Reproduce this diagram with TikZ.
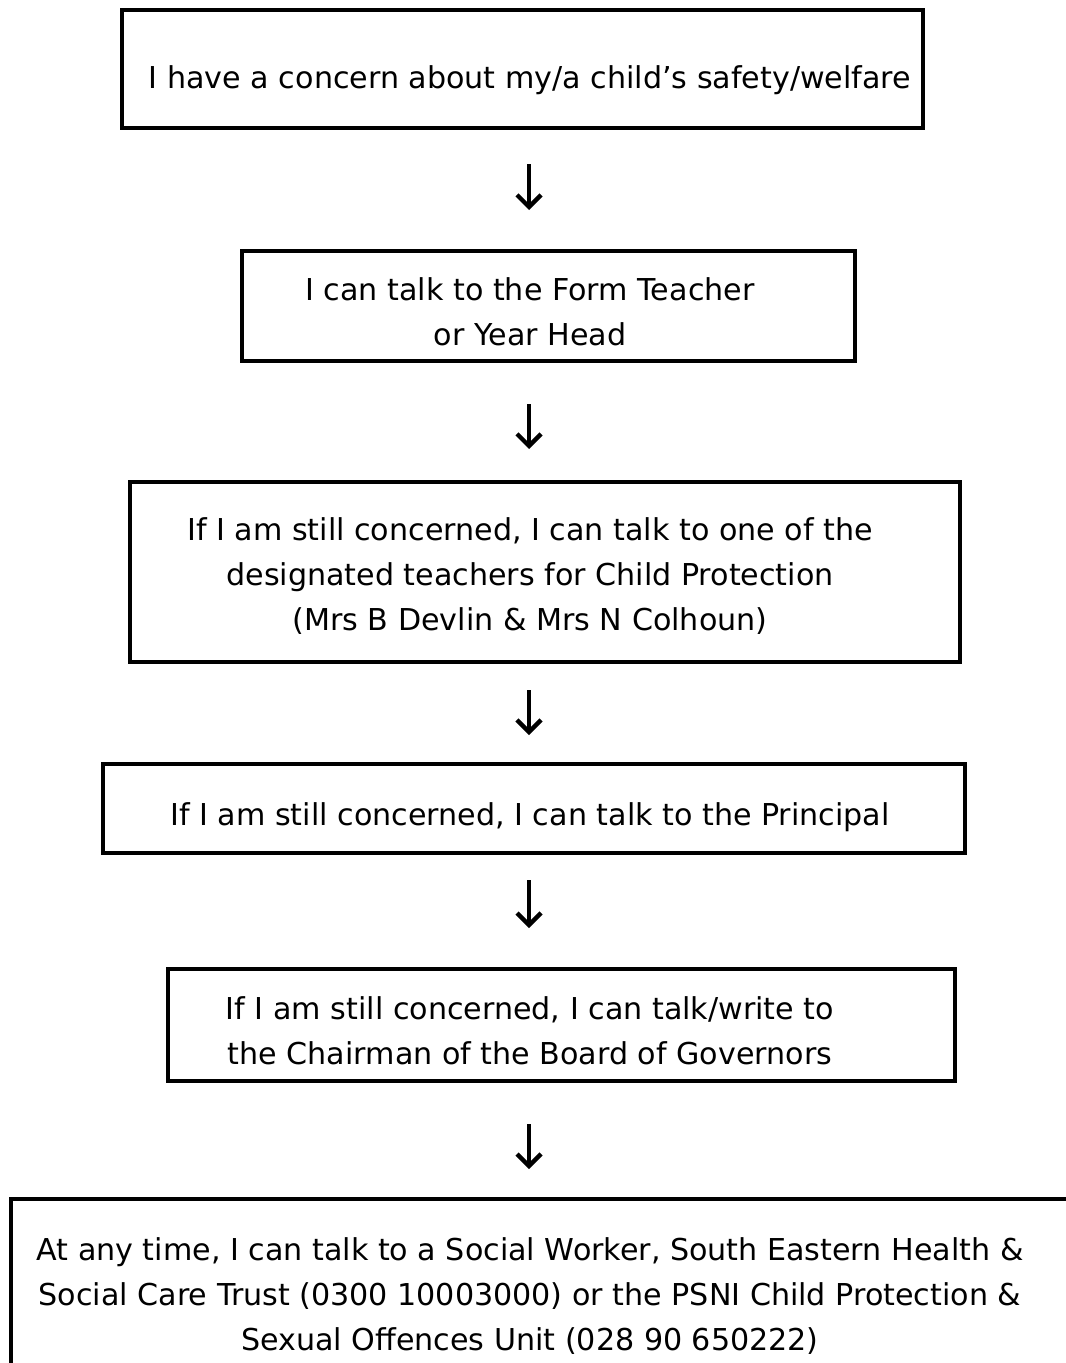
\documentclass[tikz,border=0pt]{standalone}
\usepackage{fontspec}
\setmainfont{DejaVu Sans}
\usetikzlibrary{arrows.meta}
\newdimen\PX \PX=0.75pt
\begin{document}
\begin{tikzpicture}[x=0.75pt,y=-0.75pt,
  box/.style={draw, line width=3.4pt, inner sep=0pt, outer sep=0pt},
  txt/.style={font=\fontsize{22.6pt}{34pt}\selectfont, align=center, inner sep=0pt, outer sep=0pt},
  arr/.style={line width=2.6pt, -{Straight Barb[length=9pt,width=18pt,line width=3.2pt]}}]
\useasboundingbox (0,0) rectangle (1066,1363);
\clip (0,0) rectangle (1066,1363);
\fill[white] (0,0) rectangle (1066,1363);
\coordinate (ax) at (529,0);
% boxes
\node[box, minimum width=801\PX, minimum height=118\PX] (b1) at (522.5,69) {};
\node[box, minimum width=613\PX, minimum height=110\PX] (b2) at (548.5,306) {};
\node[box, minimum width=830\PX, minimum height=180\PX] (b3) at (545,572) {};
\node[box, minimum width=862\PX, minimum height=89\PX] (b4) at (534,808.5) {};
\node[box, minimum width=787\PX, minimum height=112\PX] (b5) at (561.5,1025) {};
\node[box, minimum width=1089\PX, minimum height=201\PX] (b6) at (555.5,1299.5) {};
% texts
\node[txt] (t1) at (530,80) {I have a concern about my/a child’s safety/welfare};
\node[txt] (t2) at (530,312) {I can talk to the Form Teacher\\or Year Head};
\node[txt] (t3) at (530,576) {If I am still concerned, I can talk to one of the\\designated teachers for Child Protection\\(Mrs B Devlin \& Mrs N Colhoun)};
\node[txt] (t4) at (530,817) {If I am still concerned, I can talk to the Principal};
\node[txt] (t5) at (530,1031) {If I am still concerned, I can talk/write to\\the Chairman of the Board of Governors};
\node[txt] (t6) at (530,1296) {At any time, I can talk to a Social Worker, South Eastern Health \&\\Social Care Trust (0300 10003000) or the PSNI Child Protection \&\\Sexual Offences Unit (028 90 650222)};
% arrows
\draw[arr, shorten <=36\PX, shorten >=41\PX] (b1.south -| ax) -- (b2.north -| ax);
\draw[arr, shorten <=43\PX, shorten >=33\PX] (b2.south -| ax) -- (b3.north -| ax);
\draw[arr, shorten <=28\PX, shorten >=29\PX] (b3.south -| ax) -- (b4.north -| ax);
\draw[arr, shorten <=27\PX, shorten >=41\PX] (b4.south -| ax) -- (b5.north -| ax);
\draw[arr, shorten <=43\PX, shorten >=30\PX] (b5.south -| ax) -- (b6.north -| ax);
\end{tikzpicture}
\end{document}
